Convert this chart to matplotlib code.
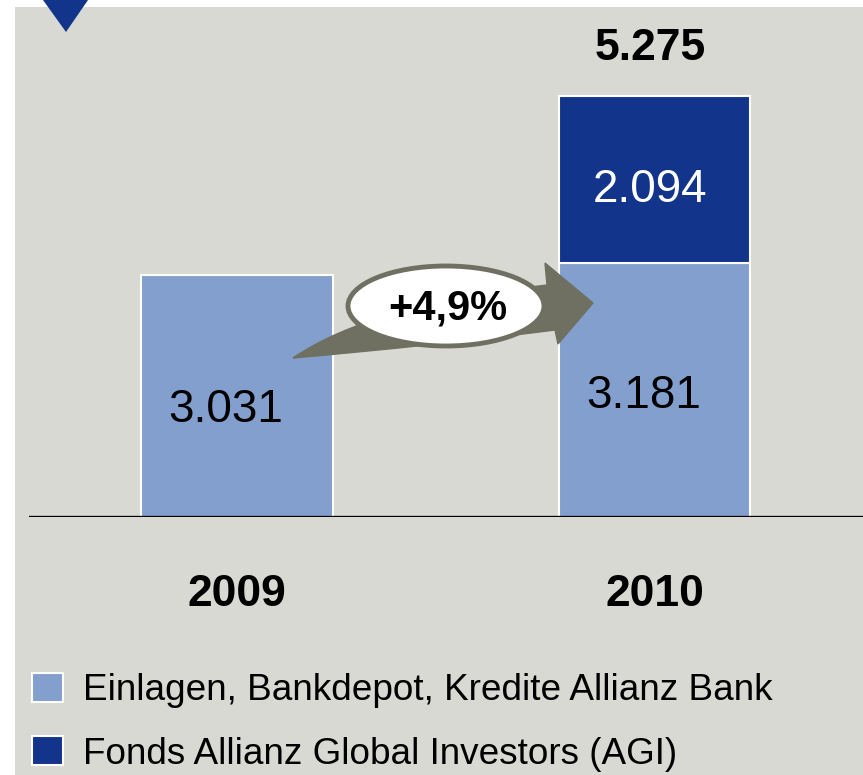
import matplotlib
matplotlib.use("Agg")
import matplotlib.pyplot as plt
from matplotlib.patches import Rectangle, Polygon, Ellipse, PathPatch
from matplotlib.path import Path

plt.rcParams['font.family'] = ['Liberation Sans', 'DejaVu Sans']

# ---- data ----
years = ["2009", "2010"]
bank = [3031, 3181]        # Einlagen, Bankdepot, Kredite Allianz Bank
agi = [0, 2094]            # Fonds Allianz Global Investors (AGI)
totals = [None, 5275]
bank_labels = ["3.031", "3.181"]
agi_labels = [None, "2.094"]
total_labels = [None, "5.275"]
growth_label = "+4,9%"
series_names = ["Einlagen, Bankdepot, Kredite Allianz Bank",
                "Fonds Allianz Global Investors (AGI)"]

# ---- style ----
C_LIGHT = "#829FCD"
C_DARK = "#13348B"
C_BG = "#D9D9D4"
C_ARROW = "#6F7061"

W, H = 863, 775
fig = plt.figure(figsize=(W / 100, H / 100), dpi=100)
fig.patch.set_facecolor("white")

# background / decoration axes (pixel coordinates)
bg = fig.add_axes([0, 0, 1, 1], zorder=0)
bg.set_xlim(0, W); bg.set_ylim(H, 0); bg.axis("off")
bg.add_patch(Rectangle((15, 7), W - 15, H - 7, color=C_BG, lw=0))
bg.add_patch(Polygon([(43, 0), (88, 0), (66, 32)], closed=True, color=C_DARK, lw=0))

# main chart axes
base_px = 517
scale = 0.0799  # px per unit
ax = fig.add_axes([29 / W, (H - base_px) / H, (W - 29) / W, base_px / H], zorder=1)
ax.patch.set_alpha(0)
ax.set_ylim(0, base_px / scale)
ax.set_xlim(-0.498, 1.499)
for s in ax.spines.values():
    s.set_visible(False)
ax.set_yticks([])

x = [0, 1]
bw = 0.458
ax.bar(x, bank, width=bw, color=C_LIGHT, edgecolor="white", linewidth=1.5,
       label=series_names[0], zorder=2)
ax.bar(x, agi, bottom=bank, width=bw, color=C_DARK, edgecolor="white",
       linewidth=1.5, label=series_names[1], zorder=2)

ax.axhline(-22, color="#85857F", lw=1.8, zorder=3)
ax.axhline(0, color="black", lw=2.4, zorder=4)

ax.set_xticks(x, years)
ax.tick_params(axis="x", length=0, pad=41, labelsize=32)
for t in ax.get_xticklabels():
    t.set_fontweight("bold")

# value labels
label_frac = [0.44, 0.475]
for i in range(2):
    ax.text(x[i] - 0.027, bank[i] * label_frac[i], bank_labels[i],
            ha="center", va="center", fontsize=33, color="black", zorder=5)
    if agi_labels[i]:
        ax.text(x[i] - 0.01, bank[i] + agi[i] * 0.5 - 140, agi_labels[i],
                ha="center", va="center", fontsize=33, color="white", zorder=5)
    if total_labels[i]:
        ax.text(x[i] - 0.01, totals[i] + 590, total_labels[i],
                ha="center", va="center", fontsize=32, fontweight="bold",
                color="black", zorder=5)

# growth arrow overlay (pixel coordinates)
ov = fig.add_axes([0, 0, 1, 1], zorder=3)
ov.set_xlim(0, W); ov.set_ylim(H, 0); ov.axis("off")
verts = [(293, 358), (370, 305), (547, 285),
         (545, 263), (593, 303), (558, 344), (555, 330),
         (430, 346), (293, 358)]
codes = [Path.MOVETO, Path.CURVE3, Path.CURVE3,
         Path.LINETO, Path.LINETO, Path.LINETO, Path.LINETO,
         Path.CURVE3, Path.CURVE3]
ov.add_patch(PathPatch(Path(verts, codes), facecolor=C_ARROW, edgecolor=C_ARROW, lw=1))
ov.add_patch(Ellipse((446, 306), 196, 80, facecolor="white", edgecolor=C_ARROW, lw=3.5))
ov.text(448, 308, growth_label, ha="center", va="center", fontsize=30,
        fontweight="bold", color="black")

# legend
leg = fig.legend(loc="upper left", bbox_to_anchor=(32 / W, 1 - 673 / H),
                 frameon=False, fontsize=26.6, handlelength=0.84, handleheight=0.84,
                 handletextpad=0.55, labelspacing=0.75, borderpad=0, borderaxespad=0)
for h in leg.legend_handles:
    h.set_edgecolor("white")
    h.set_linewidth(1.5)

fig.savefig("out.png", dpi=100, facecolor=fig.get_facecolor())
